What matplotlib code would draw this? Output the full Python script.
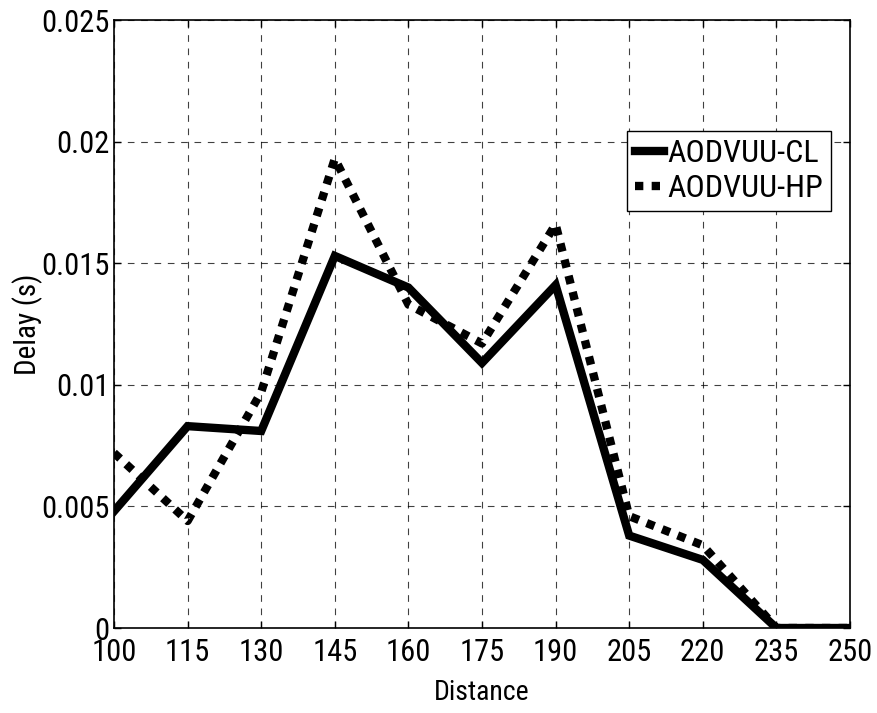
import matplotlib
matplotlib.use("Agg")
import matplotlib.pyplot as plt
from matplotlib import font_manager

names = {f.name for f in font_manager.fontManager.ttflist}
fam = "Liberation Sans"
for cand in ["Liberation Sans Narrow", "Roboto Condensed", "Archivo Narrow", "PT Sans Narrow"]:
    if cand in names:
        fam = cand
        break
plt.rcParams['font.family'] = [fam, 'DejaVu Sans']

distance = [100, 115, 130, 145, 160, 175, 190, 205, 220, 235, 250]
cl = [0.0048, 0.0083, 0.0081, 0.0153, 0.0140, 0.0109, 0.0141, 0.0038, 0.0028, 0.0, 0.0]
hp = [0.0072, 0.0044, 0.0097, 0.0193, 0.0133, 0.0117, 0.0166, 0.0046, 0.0034, 0.0, 0.0]
xticks = [100, 115, 130, 145, 160, 175, 190, 205, 220, 235, 250]
yticks = [0, 0.005, 0.01, 0.015, 0.02, 0.025]
ytick_labels = ["0", "0.005", "0.01", "0.015", "0.02", "0.025"]

fig = plt.figure(figsize=(8.77, 7.13), dpi=100)
ax = fig.add_axes([114/877, 1-628/713, (850-114)/877, (628-20)/713])

ax.plot(distance, cl, color='black', lw=6, solid_joinstyle='miter', label='AODVUU-CL')
ax.plot(distance, hp, color='black', lw=6, linestyle=(0, (1, 1)), dash_capstyle='butt',
        label='AODVUU-HP')

ax.set_xlim(100, 250)
ax.set_ylim(0, 0.025)
ax.set_xticks(xticks)
ax.set_xticklabels([str(v) for v in xticks])
ax.set_yticks(yticks)
ax.set_yticklabels(ytick_labels)
ax.tick_params(direction='in', top=True, right=True, labelsize=22, length=5, width=1)
ax.tick_params(axis='x', pad=7)
ax.tick_params(axis='y', pad=3)
ax.grid(True, color='black', linestyle=(0, (6, 6)), linewidth=0.8, alpha=0.75)
for s in ax.spines.values():
    s.set_linewidth(1.2)

ax.set_xlabel('Distance', fontsize=20, va='center')
ax.xaxis.set_label_coords(0.5, (628 - 692) / 608)
ax.set_ylabel('Delay (s)', fontsize=21, va='center')
ax.yaxis.set_label_coords((28 - 114) / 736, 0.5)

leg = ax.legend(loc='upper left', bbox_to_anchor=(627/877, 1-131/713),
                bbox_transform=fig.transFigure, fontsize=23, frameon=True,
                fancybox=False, edgecolor='black', framealpha=1,
                handlelength=0.9, handletextpad=0.1, borderpad=0.25,
                labelspacing=0.2, borderaxespad=0)
leg.get_frame().set_linewidth(1.0)

fig.savefig('out.png', dpi=100)
